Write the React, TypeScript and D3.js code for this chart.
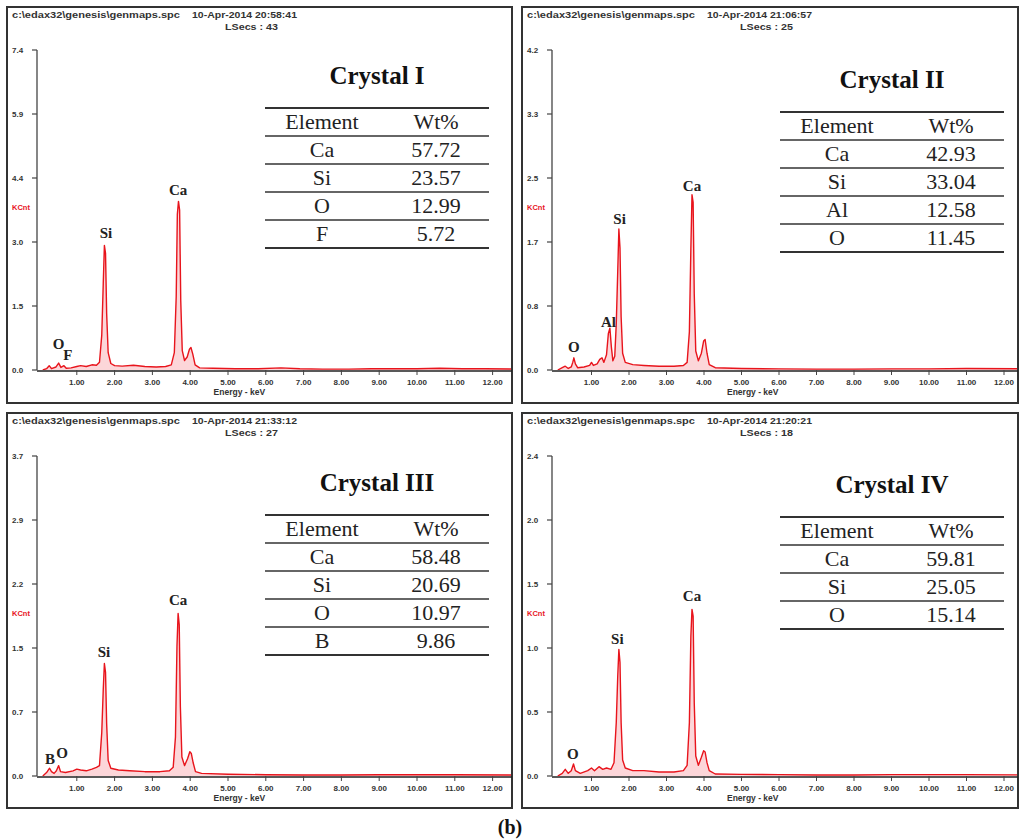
import React from 'react';
import * as d3 from 'd3';

const W = 1019;
const H = 839;

// ---- data ----
const crystalNames = ['Crystal I', 'Crystal II', 'Crystal III', 'Crystal IV'];
const timeStamps = ['20:58:41', '21:06:57', '21:33:12', '21:20:21'];
const liveSecs = [43, 25, 27, 18];
const yMax = [7.4, 4.2, 3.7, 2.4];
const yTickLabels = [
  ['0.0', '1.5', '3.0', '4.4', '5.9', '7.4'],
  ['0.0', '0.8', '1.7', '2.5', '3.3', '4.2'],
  ['0.0', '0.7', '1.5', '2.2', '2.9', '3.7'],
  ['0.0', '0.5', '1.0', '1.5', '2.0', '2.4'],
];
const energyTicks = [1, 2, 3, 4, 5, 6, 7, 8, 9, 10, 11, 12];

const tableElements = [
  ['Ca', 'Si', 'O', 'F'],
  ['Ca', 'Si', 'Al', 'O'],
  ['Ca', 'Si', 'O', 'B'],
  ['Ca', 'Si', 'O'],
];
const tableWt = [
  [57.72, 23.57, 12.99, 5.72],
  [42.93, 33.04, 12.58, 11.45],
  [58.48, 20.69, 10.97, 9.86],
  [59.81, 25.05, 15.14],
];

// [energy keV, KCnt]
const spectrum1: [number, number][] = [
  [0.1, 0], [0.2, 0.03], [0.27, 0.1], [0.33, 0.03], [0.45, 0.07], [0.52, 0.16], [0.58, 0.06],
  [0.66, 0.1], [0.72, 0.04], [0.85, 0.05], [1.0, 0.08], [1.1, 0.1], [1.25, 0.08], [1.4, 0.12],
  [1.52, 0.11], [1.6, 0.18], [1.66, 0.8], [1.7, 2.0], [1.73, 2.88], [1.76, 2.7], [1.79, 1.3],
  [1.83, 0.4], [1.9, 0.15], [2.0, 0.1], [2.2, 0.09], [2.5, 0.11], [2.8, 0.08], [3.1, 0.07],
  [3.35, 0.08], [3.5, 0.12], [3.58, 0.4], [3.63, 1.7], [3.66, 3.6], [3.69, 3.9], [3.72, 3.7],
  [3.75, 1.6], [3.79, 0.45], [3.85, 0.22], [3.92, 0.3], [3.98, 0.48], [4.02, 0.52], [4.07, 0.36],
  [4.13, 0.12], [4.25, 0.05], [4.6, 0.04], [5.2, 0.03], [5.8, 0.03], [6.4, 0.05], [6.9, 0.03],
  [7.5, 0.02], [8.2, 0.02], [8.8, 0.03], [9.4, 0.03], [10.0, 0.03], [10.6, 0.04], [11.2, 0.03],
  [11.8, 0.03], [12.6, 0.02],
];
const spectrum2: [number, number][] = [
  [0.1, 0], [0.22, 0.03], [0.3, 0.05], [0.38, 0.02], [0.46, 0.04], [0.5, 0.1], [0.53, 0.16],
  [0.57, 0.08], [0.63, 0.03], [0.8, 0.04], [0.95, 0.06], [1.0, 0.1], [1.05, 0.06], [1.15, 0.08],
  [1.22, 0.14], [1.28, 0.16], [1.33, 0.1], [1.4, 0.2], [1.45, 0.48], [1.49, 0.55], [1.53, 0.3],
  [1.57, 0.12], [1.62, 0.18], [1.66, 0.6], [1.7, 1.3], [1.73, 1.85], [1.76, 1.6], [1.79, 0.7],
  [1.83, 0.22], [1.9, 0.1], [2.1, 0.07], [2.4, 0.06], [2.8, 0.05], [3.2, 0.05], [3.45, 0.06],
  [3.55, 0.1], [3.61, 0.5], [3.65, 1.6], [3.68, 2.3], [3.71, 2.2], [3.74, 1.0], [3.78, 0.25],
  [3.85, 0.12], [3.93, 0.22], [3.99, 0.38], [4.03, 0.4], [4.08, 0.22], [4.14, 0.07], [4.3, 0.03],
  [5.0, 0.02], [6.0, 0.015], [7.0, 0.012], [8.0, 0.012], [9.0, 0.015], [10.0, 0.015], [11.0, 0.02],
  [12.6, 0.015],
];
const spectrum3: [number, number][] = [
  [0.1, 0], [0.2, 0.04], [0.28, 0.09], [0.33, 0.05], [0.4, 0.03], [0.46, 0.06], [0.52, 0.12],
  [0.57, 0.05], [0.7, 0.04], [0.9, 0.06], [1.0, 0.08], [1.1, 0.07], [1.25, 0.06], [1.4, 0.08],
  [1.52, 0.1], [1.6, 0.12], [1.66, 0.5], [1.7, 1.0], [1.73, 1.3], [1.76, 1.2], [1.79, 0.6],
  [1.83, 0.18], [1.9, 0.09], [2.1, 0.07], [2.4, 0.06], [2.8, 0.05], [3.2, 0.05], [3.45, 0.06],
  [3.55, 0.1], [3.61, 0.45], [3.65, 1.5], [3.68, 1.88], [3.71, 1.75], [3.74, 0.8], [3.78, 0.22],
  [3.85, 0.12], [3.93, 0.2], [3.99, 0.28], [4.03, 0.26], [4.08, 0.15], [4.14, 0.05], [4.3, 0.03],
  [5.0, 0.02], [6.0, 0.015], [7.0, 0.012], [8.0, 0.012], [9.0, 0.015], [10.0, 0.015], [11.0, 0.015],
  [12.6, 0.012],
];
const spectrum4: [number, number][] = [
  [0.1, 0], [0.22, 0.02], [0.3, 0.05], [0.38, 0.02], [0.46, 0.04], [0.52, 0.09], [0.57, 0.04],
  [0.7, 0.02], [0.9, 0.04], [1.0, 0.06], [1.08, 0.04], [1.2, 0.07], [1.3, 0.05], [1.4, 0.06],
  [1.52, 0.05], [1.6, 0.1], [1.66, 0.4], [1.7, 0.75], [1.73, 0.95], [1.76, 0.85], [1.79, 0.4],
  [1.83, 0.12], [1.9, 0.06], [2.1, 0.04], [2.4, 0.04], [2.8, 0.03], [3.2, 0.03], [3.45, 0.04],
  [3.55, 0.08], [3.61, 0.4], [3.65, 1.05], [3.68, 1.25], [3.71, 1.2], [3.74, 0.55], [3.78, 0.15],
  [3.85, 0.08], [3.93, 0.14], [3.99, 0.19], [4.03, 0.18], [4.08, 0.1], [4.14, 0.04], [4.3, 0.015],
  [5.0, 0.012], [6.0, 0.01], [7.0, 0.008], [8.0, 0.008], [9.0, 0.01], [10.0, 0.01], [11.0, 0.01],
  [12.6, 0.008],
];
const spectra = [spectrum1, spectrum2, spectrum3, spectrum4];

// peak labels: text, energy, KCnt level of the text baseline
const peakLabels = [
  [{ t: 'O', e: 0.52, k: 0.49 }, { t: 'F', e: 0.76, k: 0.24 }, { t: 'Si', e: 1.77, k: 3.05 }, { t: 'Ca', e: 3.68, k: 4.05 }],
  [{ t: 'O', e: 0.53, k: 0.24 }, { t: 'Al', e: 1.45, k: 0.56 }, { t: 'Si', e: 1.75, k: 1.92 }, { t: 'Ca', e: 3.68, k: 2.35 }],
  [{ t: 'B', e: 0.29, k: 0.14 }, { t: 'O', e: 0.61, k: 0.21 }, { t: 'Si', e: 1.72, k: 1.38 }, { t: 'Ca', e: 3.68, k: 1.98 }],
  [{ t: 'O', e: 0.5, k: 0.13 }, { t: 'Si', e: 1.69, k: 0.99 }, { t: 'Ca', e: 3.68, k: 1.31 }],
];

// ---- layout ----
const boxes = [
  { x: 7, y: 7, w: 505, h: 396, kev: 37.8, titleY: 77, tableTop: 101 },
  { x: 522, y: 7, w: 496, h: 396, kev: 37.5, titleY: 81, tableTop: 105 },
  { x: 7, y: 413, w: 505, h: 395, kev: 37.8, titleY: 78, tableTop: 102 },
  { x: 522, y: 413, w: 496, h: 395, kev: 37.5, titleY: 80, tableTop: 104 },
];
const AXIS_X = 30;
const BASE_Y = 363;
const TOP_Y = 43;
const RED = '#e8141c';
const SANS = 'Liberation Sans, Arial, sans-serif';
const SERIF = 'Liberation Serif, Times New Roman, serif';

function Panel({ i }: { i: number }) {
  const b = boxes[i];
  const x = d3.scaleLinear().domain([0, 12]).range([AXIS_X + 2, AXIS_X + 2 + 12 * b.kev]);
  const y = d3.scaleLinear().domain([0, yMax[i]]).range([BASE_Y, TOP_Y]);
  const line = d3.line<[number, number]>().x(d => x(d[0])).y(d => y(d[1]));
  const area = d3.area<[number, number]>().x(d => x(d[0])).y0(y(0)).y1(d => y(d[1]));
  const yTicks = yTickLabels[i].map((lab, j) => ({ lab, v: (yMax[i] * j) / 5 }));
  const rowH = 28;
  const rows = tableElements[i];
  const tLeft = 258, tRight = 482, c1 = 315, c2 = 429;
  const clipId = 'clip' + i;

  return (
    <g transform={`translate(${b.x},${b.y})`}>
      <defs>
        <clipPath id={clipId}>
          <rect x={AXIS_X + 1} y={0} width={b.w - AXIS_X - 2} height={BASE_Y} />
        </clipPath>
      </defs>
      <rect x={0} y={0} width={b.w} height={b.h} fill="#fff" stroke="#333" strokeWidth={2} />

      <text x={5} y={11} fontFamily={SANS} fontWeight="bold" fontSize={8.6} fill="#333"
        textLength={168} lengthAdjust="spacingAndGlyphs">
        {'c:\\edax32\\genesis\\genmaps.spc'}
      </text>
      <text x={185} y={11} fontFamily={SANS} fontWeight="bold" fontSize={8.6} fill="#333"
        textLength={105} lengthAdjust="spacingAndGlyphs">
        {'10-Apr-2014 ' + timeStamps[i]}
      </text>
      <text x={218} y={23} fontFamily={SANS} fontWeight="bold" fontSize={8.6} fill="#333"
        textLength={53} lengthAdjust="spacingAndGlyphs">
        {'LSecs : ' + liveSecs[i]}
      </text>

      {/* y axis */}
      <line x1={AXIS_X} x2={AXIS_X} y1={TOP_Y} y2={BASE_Y} stroke="#444" strokeWidth={1.3} />
      {yTicks.map(t => (
        <g key={t.lab}>
          <line x1={AXIS_X - 5} x2={AXIS_X} y1={y(t.v)} y2={y(t.v)} stroke="#444" strokeWidth={1.2} />
          <text x={5} y={y(t.v) + 3} fontFamily={SANS} fontWeight="bold" fontSize={8} fill="#333">
            {t.lab}
          </text>
        </g>
      ))}
      <text x={5} y={y(yMax[i] * 0.5)} fontFamily={SANS} fontWeight="bold" fontSize={7.5} fill={RED}>
        KCnt
      </text>

      {/* spectrum */}
      <g clipPath={`url(#${clipId})`}>
        <path d={area(spectra[i]) || ''} fill="rgba(240,70,80,0.22)" stroke="none" />
        <path d={line(spectra[i]) || ''} fill="none" stroke={RED} strokeWidth={1.4} strokeLinejoin="round" />
      </g>

      {/* x axis */}
      <line x1={AXIS_X} x2={b.w} y1={BASE_Y + 1} y2={BASE_Y + 1} stroke="#222" strokeWidth={1.5} />
      {energyTicks.map(e => (
        <g key={e}>
          <line x1={x(e)} x2={x(e)} y1={BASE_Y} y2={BASE_Y + 5} stroke="#444" strokeWidth={1} />
          <text x={x(e)} y={BASE_Y + 15} textAnchor="middle" fontFamily={SANS} fontWeight="bold" fontSize={8} fill="#333">
            {e.toFixed(2)}
          </text>
        </g>
      ))}
      <text x={x(5.3)} y={BASE_Y + 25} textAnchor="middle" fontFamily={SANS} fontWeight="bold" fontSize={8.5} fill="#333">
        Energy - keV
      </text>

      {/* peak labels */}
      {peakLabels[i].map(p => (
        <text key={p.t} x={x(p.e)} y={y(p.k)} textAnchor="middle" fontFamily={SERIF} fontWeight="bold" fontSize={15} fill="#222">
          {p.t}
        </text>
      ))}

      {/* title + composition table */}
      <text x={370} y={b.titleY} textAnchor="middle" fontFamily={SERIF} fontWeight="bold" fontSize={25} fill="#111">
        {crystalNames[i]}
      </text>
      {d3.range(rows.length + 2).map(k => (
        <line key={k} x1={tLeft} x2={tRight} y1={b.tableTop + k * rowH} y2={b.tableTop + k * rowH}
          stroke="#333" strokeWidth={k === 0 || k === rows.length + 1 ? 2 : 1.5} />
      ))}
      <text x={c1} y={b.tableTop + 21} textAnchor="middle" fontFamily={SERIF} fontSize={22} fill="#222">Element</text>
      <text x={c2} y={b.tableTop + 21} textAnchor="middle" fontFamily={SERIF} fontSize={22} fill="#222">Wt%</text>
      {rows.map((el, k) => (
        <g key={el}>
          <text x={c1} y={b.tableTop + (k + 1) * rowH + 21} textAnchor="middle" fontFamily={SERIF} fontSize={22} fill="#222">{el}</text>
          <text x={c2} y={b.tableTop + (k + 1) * rowH + 21} textAnchor="middle" fontFamily={SERIF} fontSize={22} fill="#222">
            {tableWt[i][k].toFixed(2)}
          </text>
        </g>
      ))}
    </g>
  );
}

export default function App() {
  return (
    <svg width={W} height={H} style={{ position: 'absolute', left: 0, top: 0, display: 'block', background: '#fff' }}>
      <rect x={0} y={0} width={W} height={H} fill="#fff" />
      {boxes.map((_, i) => <Panel key={i} i={i} />)}
      <text x={510} y={834} textAnchor="middle" fontFamily={SERIF} fontWeight="bold" fontSize={20} fill="#111">(b)</text>
    </svg>
  );
}
